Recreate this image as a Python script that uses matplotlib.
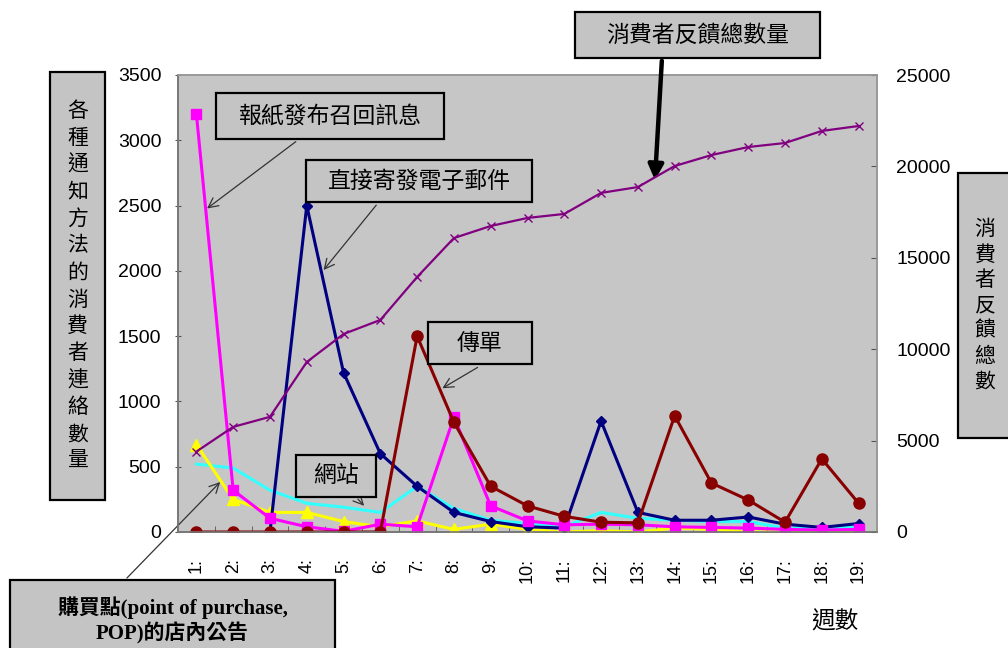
import numpy as np
import matplotlib
matplotlib.use("Agg")
import matplotlib.pyplot as plt
from matplotlib.patches import Rectangle

W, H = 1008, 648

weeks = [f"{i}:" for i in range(1, 20)]
x = np.arange(1, 20)

# left axis series (consumer contacts per notification method)
newspaper = [3200, 320, 105, 40, 5, 60, 40, 880, 200, 85, 55, 60, 55, 40, 35, 30, 20, 15, 20]
direct_mail = [np.nan, np.nan, 0, 2500, 1220, 600, 350, 150, 80, 40, 30, 850, 150, 90, 90, 115, 60, 35, 65]
flyer = [0, 0, 0, 0, 0, 0, 1500, 840, 350, 200, 120, 75, 70, 890, 375, 245, 75, 560, 220]
pop = [670, 250, 150, 150, 80, 40, 85, 20, 60, 20, 0, 10, 0, 30, 20, 0, 0, 0, 0]
website = [520, 490, 320, 220, 190, 150, 350, 180, 90, 65, 40, 150, 105, 90, 80, 80, 30, 30, 40]

# right axis series (cumulative feedback)
total_feedback = [4400, 5750, 6300, 9300, 10830, 11600, 13950, 16080, 16740, 17180,
                  17400, 18550, 18870, 20020, 20620, 21060, 21280, 21940, 22210]

CJK = ["Noto Sans CJK TC", "DejaVu Sans"]
NUM = ["Liberation Sans", "DejaVu Sans"]


def px(xp, yp):
    return (xp / W, 1 - yp / H)


fig = plt.figure(figsize=(W / 100, H / 100), dpi=100)
fig.patch.set_facecolor("white")
ax = fig.add_axes([178 / W, 1 - 532 / H, (877 - 178) / W, (532 - 75) / H])
ax.set_facecolor("#c6c6c6")

# faint patches left over in the plot area
for (x0, y0, x1, y1) in [(210, 195, 273, 228), (320, 238, 383, 265), (185, 480, 218, 515)]:
    a = px(x0, y1)
    fig.add_artist(Rectangle(a, (x1 - x0) / W, (y1 - y0) / H, facecolor="#bdbdbd",
                             edgecolor="none", zorder=-1, transform=fig.transFigure))

ax.plot(x, website, color="#33ffff", lw=2.2, zorder=2)
ax.plot(x, pop, color="#ffff00", lw=2.2, marker="^", ms=8, zorder=3)
ax.plot(x, direct_mail, color="#000080", lw=2.2, marker="D", ms=5, zorder=4)
ax.plot(x, newspaper, color="#ff00ff", lw=2.2, marker="s", ms=7, zorder=5)
ax.plot(x, flyer, color="#880000", lw=2.2, marker="o", ms=8, zorder=6)

ax.set_xlim(0.5, 19.5)
ax.set_ylim(0, 3500)
ax.set_yticks(range(0, 3501, 500))
ax.set_xticks(x)
ax.set_xticklabels(weeks, rotation=90, fontsize=13, family=NUM, va="top")
ax.set_xticks(np.arange(0.5, 19.6, 1), minor=True)
ax.tick_params(axis="x", which="major", length=0, pad=19)
ax.tick_params(axis="x", which="minor", length=4, direction="in", color="#555555")
ax.tick_params(axis="y", length=4, direction="inout", color="#555555", labelsize=14, pad=10)
for lab in ax.get_yticklabels():
    lab.set_family(NUM)

ax2 = ax.twinx()
ax2.plot(x, total_feedback, color="#800080", lw=1.6, marker="x", ms=6, mew=1, zorder=7)
ax2.set_ylim(0, 25000)
ax2.set_yticks(range(0, 25001, 5000))
ax2.tick_params(axis="y", length=4, direction="in", color="#555555", labelsize=14, pad=14)
for lab in ax2.get_yticklabels():
    lab.set_family(NUM)

for a in (ax, ax2):
    for name, sp in a.spines.items():
        sp.set_color("#777777" if name in ("left", "bottom") else "#999999")
        sp.set_linewidth(1.2)


def label_box(x0, y0, x1, y1, text, size, family=CJK, weight="normal", ls=1.2):
    fig.add_artist(Rectangle(px(x0, y1), (x1 - x0) / W, (y1 - y0) / H,
                             facecolor="#c4c4c4", edgecolor="black", lw=1.6,
                             transform=fig.transFigure, zorder=5))
    cx, cy = px((x0 + x1) / 2, (y0 + y1) / 2)
    fig.text(cx, cy, text, ha="center", va="center", fontsize=size, family=family,
             weight=weight, linespacing=ls, zorder=6)


label_box(575, 12, 820, 58, "消費者反饋總數量", 16.5)
label_box(216, 93, 444, 139, "報紙發布召回訊息", 16.5)
label_box(306, 160, 532, 202, "直接寄發電子郵件", 16.5)
label_box(428, 322, 532, 364, "傳單", 16.5)
label_box(296, 455, 376, 497, "網站", 16.5)
label_box(10, 580, 335, 660, "購買點(point of purchase,\nPOP)的店內公告", 15,
          family=["Liberation Serif", "Noto Sans CJK TC"], weight="bold", ls=1.2)
label_box(50, 72, 105, 500, "\n".join("各種通知方法的消費者連絡數量"), 15, ls=1.29)
label_box(958, 173, 1012, 438, "\n".join("消費者反饋總數"), 15, ls=1.2)

fig.text(*px(835, 622), "週數", ha="center", va="center", fontsize=17, family=CJK)

thin = dict(arrowstyle="->,head_width=0.35,head_length=0.7", color="#333333", lw=0.9)
for tip, start in [((1.23, 2465), (298, 140)),
                   ((4.41, 1990), (378, 203)),
                   ((7.62, 1090), (480, 366)),
                   ((5.61, 185), (356, 497)),
                   ((1.70, 398), (125, 580))]:
    ax.annotate("", xy=tip, xycoords="data", xytext=px(*start),
                textcoords="figure fraction", arrowprops=thin, annotation_clip=False)

ax2.annotate("", xy=(13.46, 19100), xycoords="data", xytext=px(662, 58),
             textcoords="figure fraction", annotation_clip=False,
             arrowprops=dict(arrowstyle="-|>,head_width=0.45,head_length=0.9",
                             color="black", lw=3.2))

fig.savefig("out.png", dpi=100)
